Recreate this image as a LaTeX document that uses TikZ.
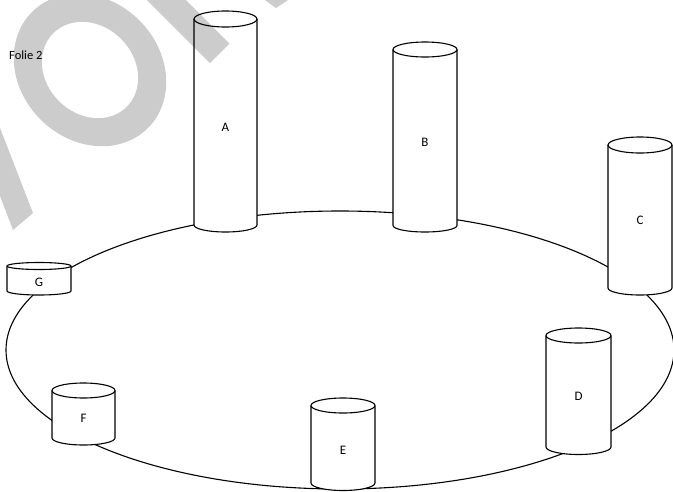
\documentclass[tikz,border=0pt]{standalone}
\usepackage{fontspec}
\setmainfont{Carlito}
\tikzset{
  x=1pt, y=1pt,
  line/.style={line width=1.1pt, draw=black, line join=round},
  lab/.style={font=\fontsize{13}{15}\selectfont, inner sep=0pt},
  wm/.style={fill=black, fill opacity=0.2, draw=none},
}
% #1 name, #2 cx, #3 top-face centre y, #4 bottom centre y, #5 rx, #6 ry top, #7 ry bottom, #8 label, #9 label y
\newcommand\cylnode[9]{%
  \filldraw[line, fill=white] (#2-#5,-#3) -- (#2-#5,-#4)
     arc[start angle=180, end angle=360, x radius=#5, y radius=#7]
     -- (#2+#5,-#3)
     arc[start angle=0, end angle=180, x radius=#5, y radius=#6] -- cycle;
  \draw[line] (#2-#5,-#3) arc[start angle=180, end angle=360, x radius=#5, y radius=#6];
  \node[lab] (#1) at (#2,-#9) {#8};
}
\begin{document}
\begin{tikzpicture}
\useasboundingbox (0,0) rectangle (673,-491);
\clip (0,0) rectangle (673,-491);
\fill[white] (0,0) rectangle (673,-491);
% ring path
\draw[line] (340,-350) ellipse[x radius=334, y radius=139];
% cylinders
\cylnode{A}{225.5}{19}{225}{31.5}{8}{7}{A}{127}
\cylnode{B}{425}{49.5}{225.5}{32}{7.5}{6.5}{B}{142}
\cylnode{C}{640}{145}{288}{32}{8}{7}{C}{220}
\cylnode{D}{578.5}{335.5}{447}{32.5}{7.5}{7.5}{D}{396}
\cylnode{E}{343}{405.5}{483}{32}{7.5}{7.5}{E}{450}
\cylnode{F}{83.5}{390.5}{438}{31.5}{7.5}{7}{F}{418}
\cylnode{G}{39}{266}{291}{32}{3.5}{4}{G}{282}
% title
\node[font=\fontsize{12.5}{14}\selectfont, anchor=base west, inner sep=0pt] (folie) at (9,-59) {Folie 2};
% watermark
\fill[wm] (-5,-115) -- (33,-213) -- (13,-230) -- (-5,-183) -- cycle;
\fill[wm, even odd rule] (90,-70) ellipse[x radius=82, y radius=70, rotate=-45]
                         (90,-70) ellipse[x radius=52, y radius=44, rotate=-45];
\fill[wm] (140,7) -- (210,-63) -- (229.5,-43.5) -- (179,7) -- cycle;
\fill[wm] (262,2) -- (276,-8) -- (291,2) -- cycle;
\end{tikzpicture}
\end{document}
